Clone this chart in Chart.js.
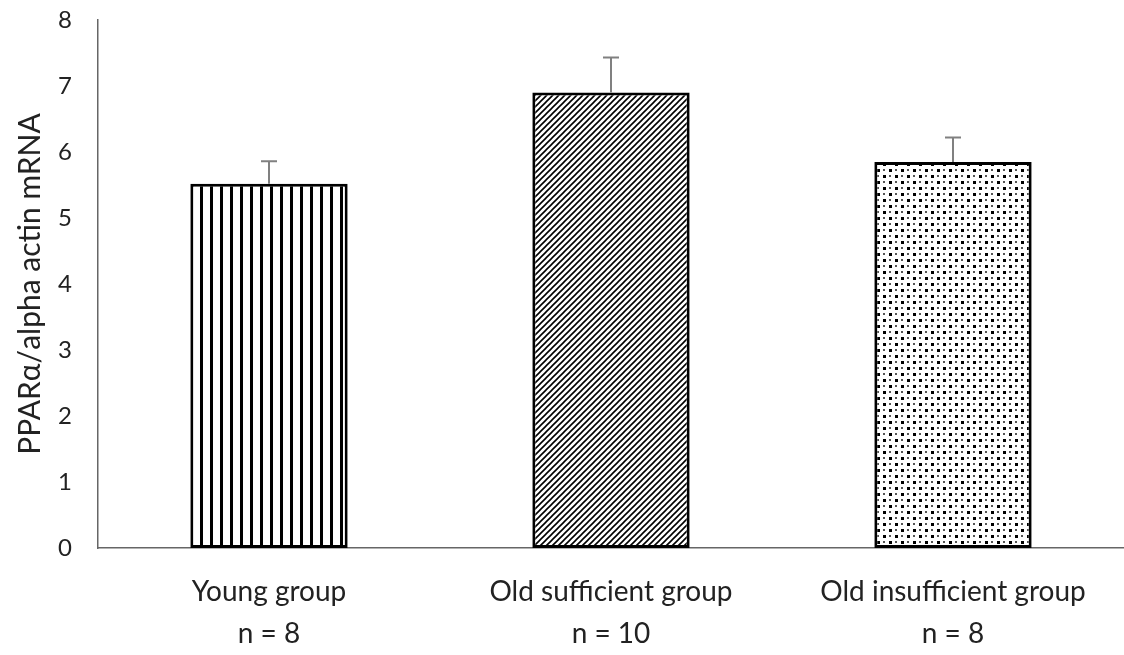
<!DOCTYPE html>
<html>
<head>
<meta charset="utf-8">
<script src="https://cdn.jsdelivr.net/npm/chart.js@4/dist/chart.umd.min.js"></script>
<style>
  html, body { margin: 0; padding: 0; background: #fff; }
  #wrap { width: 1124px; height: 655px; }
</style>
</head>
<body>
<div id="wrap"><canvas id="chart" width="1124" height="655"></canvas></div>
<script>
// data
const groups = ['Young group', 'Old sufficient group', 'Old insufficient group'];
const sampleSizes = ['n = 8', 'n = 10', 'n = 8'];
const means = [5.52, 6.9, 5.85];
const errors = [0.34, 0.53, 0.37];
const yTicks = [0, 1, 2, 3, 4, 5, 6, 7, 8];

function makePattern(kind) {
    let c = document.createElement('canvas');
    let g = c.getContext('2d');
    if (kind === 'vertical') {
        c.width = 10; c.height = 10;
        g.fillStyle = '#fff'; g.fillRect(0, 0, 10, 10);
        g.fillStyle = '#000'; g.fillRect(0, 0, 3, 10);
    } else if (kind === 'diagonal') {
        c.width = 6; c.height = 6;
        g.fillStyle = '#fff'; g.fillRect(0, 0, 6, 6);
        g.strokeStyle = '#000'; g.lineWidth = 1.6;
        g.beginPath();
        g.moveTo(-1, 7); g.lineTo(7, -1);
        g.moveTo(-4, 4); g.lineTo(4, -4);
        g.moveTo(2, 10); g.lineTo(10, 2);
        g.stroke();
    } else {
        c.width = 12; c.height = 12;
        g.fillStyle = '#fff'; g.fillRect(0, 0, 12, 12);
        g.fillStyle = '#000';
        g.fillRect(1, 1, 3, 3);
        g.fillRect(7, 7, 3, 3);
        g.fillStyle = '#555';
        g.fillRect(7, 1, 2, 2);
        g.fillRect(1, 7, 2, 2);
    }
    return document.getElementById('chart').getContext('2d').createPattern(c, 'repeat');
}

const errorBars = {
    id: 'errorBars',
    afterDatasetsDraw(chart) {
        let ctx = chart.ctx;
        let meta = chart.getDatasetMeta(0);
        let y = chart.scales.y;
        ctx.save();
        ctx.strokeStyle = '#808080';
        ctx.lineWidth = 2;
        meta.data.forEach(function (bar, i) {
            let top = y.getPixelForValue(means[i] + errors[i]);
            let base = y.getPixelForValue(means[i]);
            ctx.beginPath();
            ctx.moveTo(bar.x, base);
            ctx.lineTo(bar.x, top);
            ctx.moveTo(bar.x - 8, top);
            ctx.lineTo(bar.x + 8, top);
            ctx.stroke();
        });
        ctx.restore();
    }
};

let labels = groups.map(function (g, i) { return [g, sampleSizes[i]]; });

new Chart(document.getElementById('chart'), {
    type: 'bar',
    data: {
        labels: labels,
        datasets: [{
            data: means,
            backgroundColor: [makePattern('vertical'), makePattern('diagonal'), makePattern('dots')],
            borderColor: '#000',
            borderWidth: 3,
            borderSkipped: false,
            barPercentage: 0.46,
            categoryPercentage: 1
        }]
    },
    options: {
        responsive: false,
        animation: false,
        layout: { padding: { top: 20, right: -8, left: 12, bottom: 0 } },
        plugins: { legend: { display: false }, tooltip: { enabled: false } },
        scales: {
            x: {
                grid: { display: false, drawTicks: false },
                border: { display: true, color: '#666', width: 1.5 },
                ticks: {
                    color: '#222',
                    font: { family: 'Lato', size: 28, lineHeight: 1.5 },
                    padding: 23,
                    maxRotation: 0
                },
                afterFit: function (axis) { axis.height = 107; }
            },
            y: {
                min: 0,
                max: 8,
                afterBuildTicks: function (axis) {
                    axis.ticks = yTicks.map(function (v) { return { value: v }; });
                },
                // tick length gives the label gap; ticks.padding would also pad the top
                grid: { display: false, drawTicks: true, tickLength: 26 },
                border: { display: true, color: '#666', width: 1.5 },
                ticks: {
                    color: '#222',
                    font: { family: 'Lato', size: 24 },
                    padding: 0
                },
                title: {
                    display: true,
                    text: 'PPARα/alpha actin mRNA',
                    color: '#222',
                    font: { family: 'Lato', size: 30 },
                    padding: 0
                },
                afterFit: function (axis) { axis.width = 86; }
            }
        }
    },
    plugins: [errorBars]
});
</script>
</body>
</html>
